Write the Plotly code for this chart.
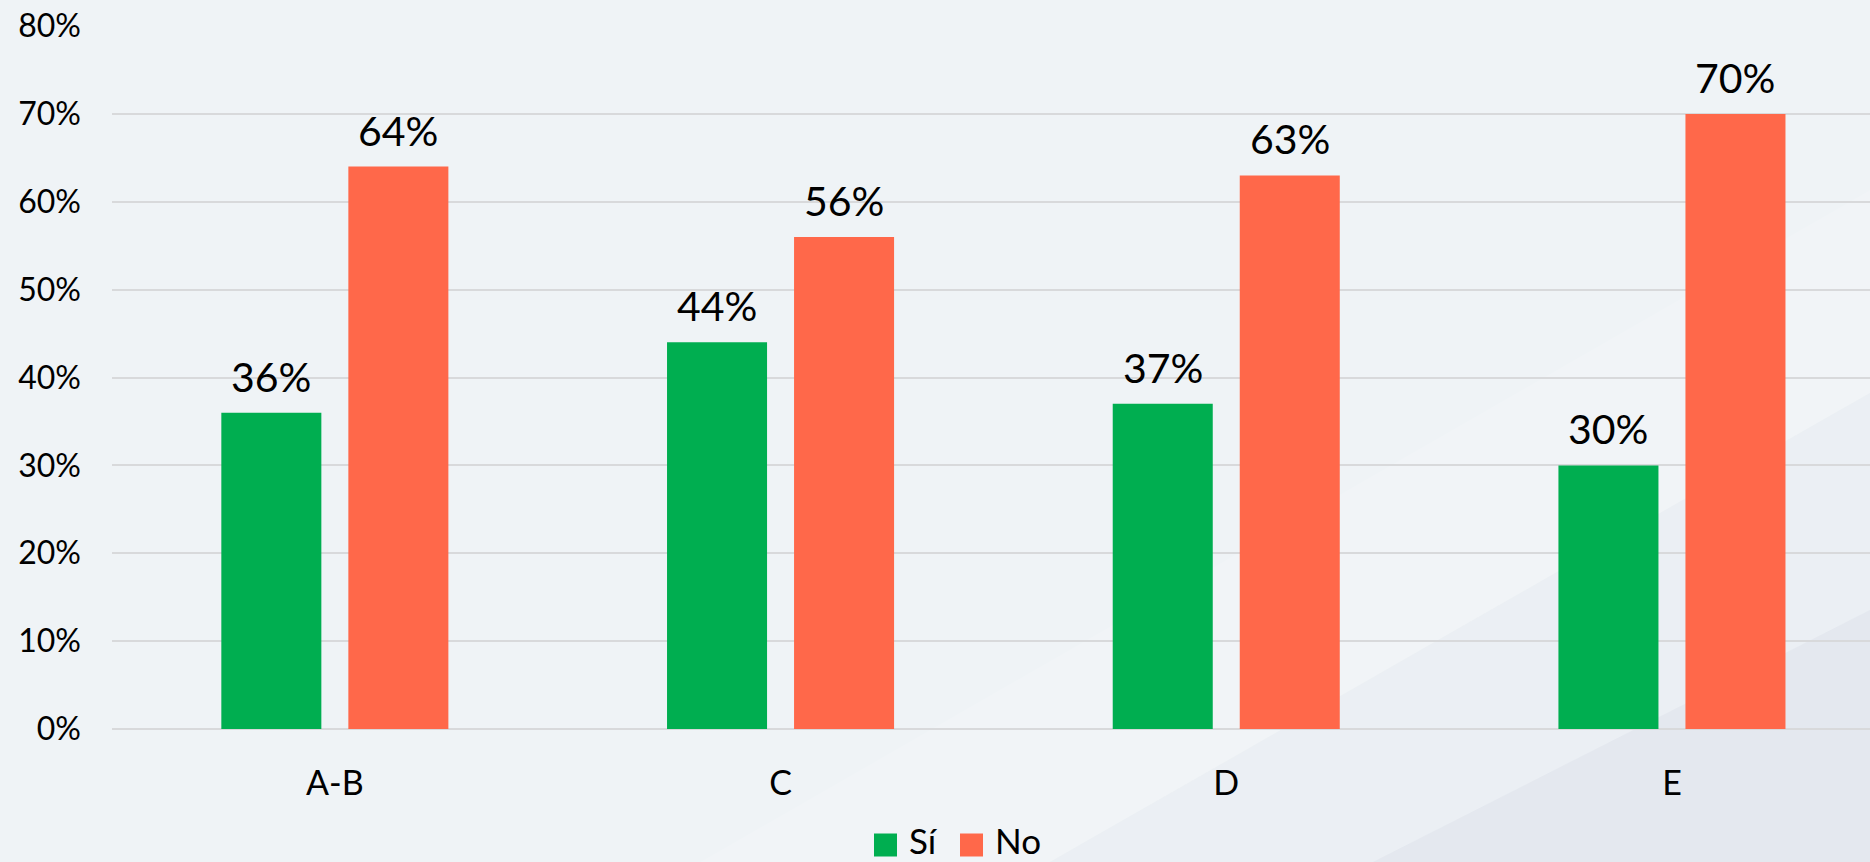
import plotly.graph_objects as go

categories = ["A-B", "C", "D", "E"]
si_values = [0.36, 0.44, 0.37, 0.30]
no_values = [0.64, 0.56, 0.63, 0.70]
series_names = ["Sí", "No"]
y_ticks = [0, 0.1, 0.2, 0.3, 0.4, 0.5, 0.6, 0.7, 0.8]

GREEN = "#00AE50"
ORANGE = "#FF684A"
FONT = "Lato"

W, H = 1870, 862
L, R, T, B = 112, 0, 26, 133
PW, PH = W - L - R, H - T - B


def px(x):
    return (x - L) / PW


def py(y):
    return (H - B - y) / PH


fig = go.Figure()
fig.add_trace(go.Bar(x=categories, y=si_values, name=series_names[0],
                     marker=dict(color=GREEN, line=dict(width=0)), showlegend=False))
fig.add_trace(go.Bar(x=categories, y=no_values, name=series_names[1],
                     marker=dict(color=ORANGE, line=dict(width=0)), showlegend=False))

# data labels above each bar
for vals, shift in [(si_values, -63.5), (no_values, 63.5)]:
    for c, v in zip(categories, vals):
        fig.add_annotation(x=c, y=v, text=f"{v:.0%}", showarrow=False, xshift=shift,
                           yanchor="bottom", yshift=10, font=dict(family=FONT, size=41, color="#000"))

# faint diagonal bands in the background
bands = [
    ([(1050, 862), (1870, 393), (1870, 862)], "rgba(205,210,225,0.10)"),
    ([(1373, 862), (1870, 610), (1870, 862)], "rgba(200,205,222,0.20)"),
    ([(700, 862), (1870, 190), (1870, 393), (1050, 862)], "rgba(255,255,255,0.12)"),
]
for pts, col in bands:
    path = "M " + " L ".join(f"{px(a)},{py(b)}" for a, b in pts) + " Z"
    fig.add_shape(type="path", path=path, xref="paper", yref="paper",
                  fillcolor=col, line=dict(width=0), layer="below")

# legend drawn by hand so the swatches match the original size
legend_items = [(series_names[0], GREEN, 885.5, 908), (series_names[1], ORANGE, 971.5, 994)]
for name, col, cx, tx in legend_items:
    fig.add_shape(type="rect", xref="paper", yref="paper", xsizemode="pixel", ysizemode="pixel",
                  xanchor=px(cx), yanchor=py(845), x0=-11.5, x1=11.5, y0=-11.5, y1=11.5,
                  fillcolor=col, line=dict(width=0))
    fig.add_annotation(x=px(tx), y=py(840), xref="paper", yref="paper", text=name, showarrow=False,
                       xanchor="left", yanchor="middle", borderpad=0,
                       font=dict(family=FONT, size=35, color="#000"))

fig.update_layout(
    width=W, height=H,
    margin=dict(l=L, r=R, t=T, b=B),
    paper_bgcolor="#EFF3F6",
    plot_bgcolor="rgba(0,0,0,0)",
    barmode="group", bargap=0.43, bargroupgap=0.2126,
    showlegend=False,
    font=dict(family=FONT, color="#000"),
)
fig.update_xaxes(range=[-0.5, -0.5 + PW / 445.7], showgrid=False, showline=False,
                 tickfont=dict(size=34), ticks="", ticklabelstandoff=31)
fig.update_yaxes(range=[0, 0.8], tickvals=y_ticks, tickformat=".0%", showgrid=True,
                 gridcolor="#D8D9DB", gridwidth=2, zeroline=True, zerolinecolor="#D8D9DB",
                 zerolinewidth=2, tickfont=dict(size=32), ticklabelstandoff=30)

fig.write_html("out.html", config={"displayModeBar": False},
               post_script="document.body.style.margin='0';document.body.style.overflow='hidden';")
